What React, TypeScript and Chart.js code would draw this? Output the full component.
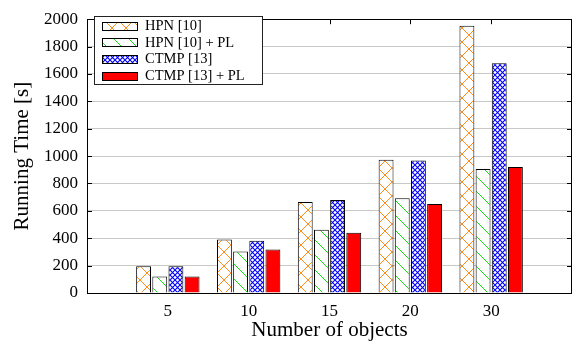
import React, { useEffect, useRef } from "react";
import { Chart, registerables } from "chart.js";

Chart.register(...registerables);

const categories = ["5", "10", "15", "20", "30"];
const seriesNames = ["HPN [10]", "HPN [10] + PL", "CTMP [13]", "CTMP [13] + PL"];
const hpn = [195, 391, 665, 974, 1953];
const hpnPL = [120, 304, 462, 693, 906];
const ctmp = [195, 382, 679, 967, 1679];
const ctmpPL = [120, 318, 441, 651, 920];
const yTicks = [0, 200, 400, 600, 800, 1000, 1200, 1400, 1600, 1800, 2000];

const FONT = "'Liberation Serif', 'Times New Roman', serif";

function makePattern(kind: string): CanvasPattern | string {
  if (kind === "solid") return "#ff0000";
  const c = document.createElement("canvas");
  let size = 14;
  if (kind === "blue") size = 5;
  if (kind === "green") size = 15;
  c.width = size;
  c.height = size;
  const g = c.getContext("2d")!;
  g.fillStyle = "#ffffff";
  g.fillRect(0, 0, size, size);
  g.lineWidth = 1;
  if (kind === "orange") {
    g.strokeStyle = "#ff8c1a";
    g.beginPath();
    g.moveTo(-1, -1);
    g.lineTo(size + 1, size + 1);
    g.moveTo(size + 1, -1);
    g.lineTo(-1, size + 1);
    g.stroke();
  } else if (kind === "green") {
    g.strokeStyle = "#10e010";
    g.beginPath();
    g.moveTo(-1, -1);
    g.lineTo(size + 1, size + 1);
    g.stroke();
  } else if (kind === "blue") {
    g.strokeStyle = "#0000ff";
    g.lineWidth = 1.1;
    g.beginPath();
    g.moveTo(-1, -1);
    g.lineTo(size + 1, size + 1);
    g.moveTo(size + 1, -1);
    g.lineTo(-1, size + 1);
    g.stroke();
  }
  return g.createPattern(c, "repeat")!;
}

export default function App() {
  const ref = useRef<HTMLCanvasElement>(null);

  useEffect(() => {
    const canvas = ref.current!;
    const fills = [makePattern("orange"), makePattern("green"), makePattern("blue"), makePattern("solid")];
    const values = [hpn, hpnPL, ctmp, ctmpPL];
    const labels = ["", ...categories, ""];

    const framePlugin = {
      id: "frameLegend",
      afterDraw(chart: any) {
        const ctx = chart.ctx as CanvasRenderingContext2D;
        const { left, right, top, bottom } = chart.chartArea;
        const xs = chart.scales.x;
        const ys = chart.scales.y;
        ctx.save();
        ctx.strokeStyle = "#000";
        ctx.lineWidth = 1;
        ctx.strokeRect(Math.round(left) + 0.5, Math.round(top) + 0.5, Math.round(right - left) - 1, Math.round(bottom - top));
        ctx.beginPath();
        for (const v of yTicks) {
          const y = Math.round(ys.getPixelForValue(v)) + 0.5;
          ctx.moveTo(left, y);
          ctx.lineTo(left + 5, y);
          ctx.moveTo(right, y);
          ctx.lineTo(right - 5, y);
        }
        for (let i = 1; i <= categories.length; i++) {
          const x = Math.round(xs.getPixelForValue(i)) + 0.5;
          ctx.moveTo(x, top);
          ctx.lineTo(x, top + 5);
        }
        ctx.stroke();

        const bx = 94.5, by = 16.5, bw = 168, bh = 68;
        ctx.fillStyle = "#fff";
        ctx.fillRect(bx, by, bw, bh);
        ctx.strokeStyle = "#222";
        ctx.strokeRect(bx, by, bw, bh);
        ctx.font = `14.5px ${FONT}`;
        ctx.textBaseline = "middle";
        ctx.textAlign = "left";
        for (let i = 0; i < seriesNames.length; i++) {
          const cy = 25.7 + i * 16.7;
          const sx = 102.5, sy = Math.round(cy - 4) + 0.5, sw = 35, sh = 8;
          ctx.fillStyle = fills[i] as any;
          ctx.fillRect(sx, sy, sw, sh);
          ctx.strokeStyle = "#000";
          ctx.strokeRect(sx, sy, sw, sh);
          ctx.fillStyle = "#000";
          ctx.fillText(seriesNames[i], 145, cy + 0.5);
        }
        ctx.restore();
      },
    };

    const chart = new Chart(canvas, {
      type: "bar",
      data: {
        labels,
        datasets: values.map((vals, i) => ({
          label: seriesNames[i],
          data: [null, ...vals, null],
          backgroundColor: fills[i] as any,
          borderColor: "#000",
          borderWidth: 1,
          categoryPercentage: 0.8,
          barPercentage: 0.92,
        })),
      },
      options: {
        responsive: false,
        animation: false,
        layout: { padding: { left: 0, right: 8, top: 11, bottom: 0 } },
        plugins: { legend: { display: false }, tooltip: { enabled: false } },
        scales: {
          x: {
            offset: false,
            grid: { display: false, drawTicks: false },
            border: { display: false },
            ticks: { color: "#000", font: { family: FONT, size: 17 }, padding: 8, maxRotation: 0, autoSkip: false },
            title: { display: true, text: "Number of objects", color: "#000", font: { family: FONT, size: 21 }, padding: { top: 0, bottom: 1.5 } },
            afterFit(scale: any) { scale.height = 52; },
          },
          y: {
            min: 0,
            max: 2000,
            grid: { color: "#c8c8c8", lineWidth: 1, drawTicks: false },
            border: { display: false },
            ticks: {
              stepSize: 200,
              color: "#000",
              font: { family: FONT, size: 17 },
              padding: 9,
              callback: (v: any) => String(v),
            },
            title: { display: true, text: "Running Time [s]", color: "#000", font: { family: FONT, size: 21 }, padding: { top: 9.5, bottom: 0 } },
            afterFit(scale: any) { scale.width = 87; },
          },
        },
      },
      plugins: [framePlugin],
    } as any);
    return () => chart.destroy();
  }, []);

  return (
    <div style={{ position: "fixed", left: 0, top: 0, width: 580, height: 345, background: "#fff" }}>
      <canvas ref={ref} width={580} height={345} style={{ width: 580, height: 345, display: "block" }} />
    </div>
  );
}
